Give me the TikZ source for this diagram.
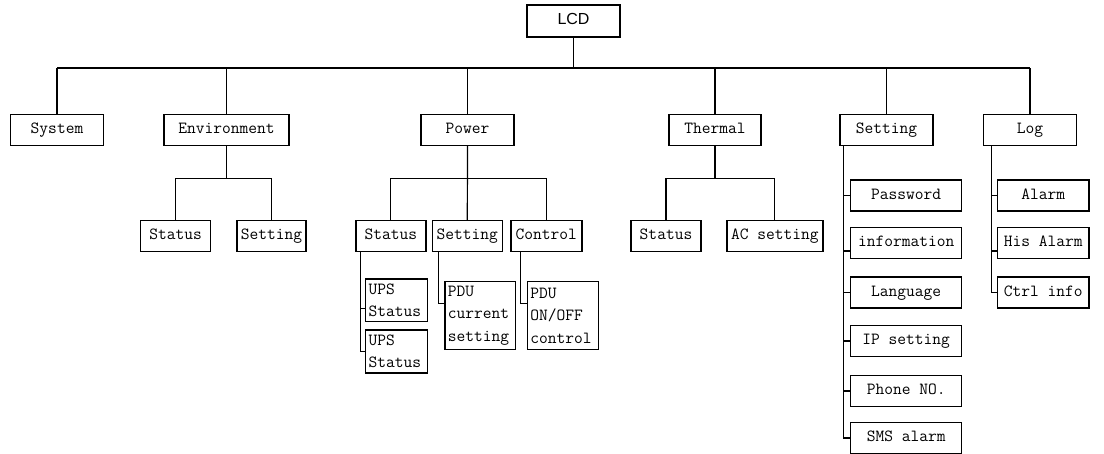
\documentclass[tikz,border=0pt]{standalone}
\usepackage{fontspec}
\usepackage{tikz}
\newfontfamily\lcdfont{Liberation Sans}
\tikzset{
  menubase/.style={draw, line width=1.4pt, inner sep=0pt, font=\ttfamily\fontsize{17}{22.5}\selectfont},
  menu/.style={menubase, minimum height=31pt, text height=11pt, text depth=3.5pt},
  menutwo/.style={menubase, align=left, inner xsep=3pt},
  link/.style={line width=1.2pt}
}
\newcommand{\menuitem}[5]{\node[menu, minimum width=#4pt] (#1) at (#2,#3) {#5};}

\begin{document}
\begin{tikzpicture}[x=1pt, y=-1pt]
        \useasboundingbox (0,0) rectangle (1104,454);
        % root
        \node[menu, minimum width=93pt, minimum height=32pt, font=\lcdfont\fontsize{16}{18}\selectfont] (lcd) at (573.5,21) {LCD};
        % level1
        \menuitem{sys}{57}{130}{93}{System}
        \menuitem{env}{226.5}{130}{125}{Environment}
        \menuitem{pow}{467.5}{130}{93}{Power}
        \menuitem{thm}{715}{130}{92}{Thermal}
        \menuitem{set}{886.5}{130}{93}{Setting}
        \menuitem{log}{1030}{130}{93}{Log}
        % level2
        \menuitem{envst}{175.7}{236}{70}{Status}
        \menuitem{envset}{271.5}{236}{69}{Setting}
        \menuitem{powst}{390.8}{236}{70}{Status}
        \menuitem{powset}{467.3}{236}{70}{Setting}
        \menuitem{powctl}{546.3}{236}{71}{Control}
        \menuitem{thmst}{666}{236}{70}{Status}
        \menuitem{thmac}{774.8}{236}{96}{AC setting}
        % power children
        \node[menutwo, text width=56pt, minimum height=42.7pt] (ups1) at (396.7,300.3) {UPS\\Status};
        \node[menutwo, text width=56pt, minimum height=43pt] (ups2) at (396.7,351.5) {UPS\\Status};
        \node[menutwo, text width=64.7pt, minimum height=67.6pt] (pdu) at (480.3,315.5) {PDU\\current\\setting};
        \node[menutwo, text width=65pt, minimum height=67.6pt] (pductl) at (562.8,315.5) {PDU\\ON/OFF\\control};
        % setting column
        \menuitem{pwd}{906.2}{195.5}{111}{Password}
        \menuitem{info}{906.2}{243}{111}{information}
        \menuitem{lang}{906.2}{292.5}{111}{Language}
        \menuitem{ip}{906.2}{341}{111}{IP setting}
        \menuitem{phone}{906.2}{391}{111}{Phone NO.}
        \menuitem{sms}{906.2}{438}{111}{SMS alarm}
        % log column
        \menuitem{alarm}{1043.3}{195.5}{91.3}{Alarm}
        \menuitem{his}{1043.3}{243}{91.3}{His Alarm}
        \menuitem{ctrl}{1043.3}{292.5}{91.3}{Ctrl info}
        % buses
        \coordinate (bus) at (0,68);
        \coordinate (subbus) at (0,178.5);
        % root to level1
        \draw[link] (lcd.south) -- (lcd |- bus);
        \draw[link] (sys |- bus) -- (log |- bus);
        \foreach \n in {sys,env,pow,thm,set,log}
            \draw[link] (\n.north) -- (\n |- bus);
        % level1 to level2
        \draw[link] (env.south) -- (env |- subbus);
        \draw[link] (envst.north) |- (subbus -| envset) -- (envset.north);
        \draw[link] (pow.south) -- (powset.north);
        \draw[link] (powst.north) |- (subbus -| powctl) -- (powctl.north);
        \draw[link] (thm.south) -- (thm |- subbus);
        \draw[link] (thmst.north) |- (subbus -| thmac) -- (thmac.north);
        % power children
        \draw[link] (ups2.west) -| ([xshift=5pt]powst.south west);
        \draw[link] ([yshift=-8pt]ups1.west) -- ++(-5,0);
        \draw[link] ([xshift=7pt]powset.south west) |- ([yshift=12pt]pdu.west);
        \draw[link] ([xshift=10pt]powctl.south west) |- ([yshift=12pt]pductl.west);
        % setting column
        \draw[link] ([xshift=4pt]set.south west) |- (sms.west);
        \foreach \n in {pwd,lang,ip,phone}
            \draw[link] (\n.west) -- ++(-6.7,0);
        \draw[link] ([yshift=-8pt]info.west) -- ++(-6.7,0);
        % log column
        \draw[link] ([xshift=9pt]log.south west) |- (ctrl.west);
        \draw[link] (alarm.west) -- ++(-5.4,0);
        \draw[link] ([yshift=-8pt]his.west) -- ++(-5.4,0);
\end{tikzpicture}
\end{document}
